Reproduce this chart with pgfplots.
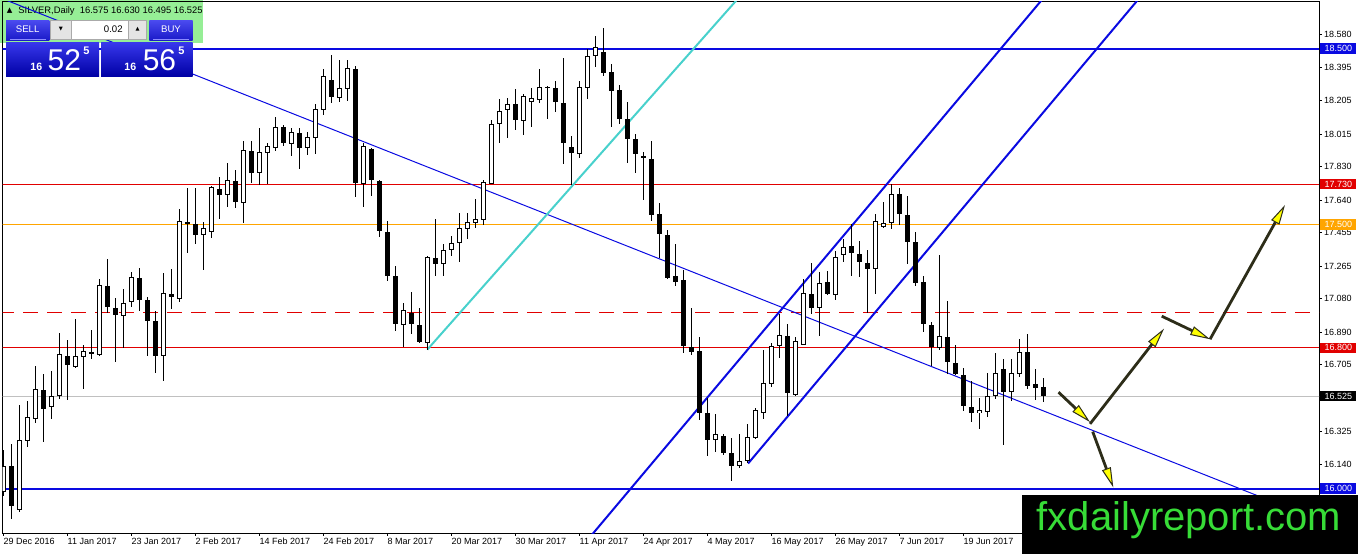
\documentclass[border=0pt]{standalone}
\usepackage{pgfplots}
\pgfplotsset{compat=1.18}
\usepackage{pgfplotstable}
\usepackage{fontspec}
\setmainfont{Liberation Sans}
\newfontfamily\dv{DejaVu Sans}
\usetikzlibrary{arrows.meta}
\definecolor{lblue}{RGB}{10,10,225}
\definecolor{lred}{RGB}{225,0,0}
\definecolor{lorange}{RGB}{255,165,0}
\definecolor{lgray}{RGB}{192,192,192}
\definecolor{lcyan}{RGB}{72,209,204}
\definecolor{adark}{RGB}{45,45,25}
\definecolor{ayellow}{RGB}{255,255,0}
\definecolor{hgreen}{RGB}{150,238,150}
\definecolor{btop}{RGB}{75,75,240}
\definecolor{bbot}{RGB}{25,25,200}
\definecolor{ptop}{RGB}{55,55,235}
\definecolor{pbot}{RGB}{0,0,165}
\definecolor{wgreen}{RGB}{55,220,55}
\newcommand{\lab}{\fontsize{4.5pt}{5pt}\selectfont}
\pgfplotstableread{
i O H L C
0 15.982 16.217 15.956 16.131
1 16.127 16.251 15.826 15.900
2 15.880 16.476 15.870 16.275
3 16.271 16.498 16.237 16.406
4 16.398 16.697 16.372 16.564
5 16.560 16.652 16.267 16.452
6 16.464 16.668 16.398 16.528
7 16.524 16.885 16.508 16.763
8 16.755 16.843 16.506 16.701
9 16.693 16.963 16.685 16.751
10 16.747 16.817 16.568 16.785
11 16.777 16.899 16.739 16.763
12 16.757 17.190 16.753 17.156
13 17.154 17.304 17.000 17.030
14 17.026 17.086 16.717 16.985
15 16.979 17.134 16.799 17.054
16 17.058 17.230 17.030 17.200
17 17.196 17.256 17.010 17.074
18 17.070 17.090 16.753 16.953
19 16.953 17.010 16.658 16.755
20 16.753 17.224 16.614 17.110
21 17.106 17.250 17.020 17.088
22 17.080 17.587 17.060 17.523
23 17.517 17.708 17.340 17.505
24 17.501 17.708 17.391 17.443
25 17.439 17.515 17.244 17.481
26 17.461 17.722 17.423 17.712
27 17.702 17.772 17.531 17.670
28 17.667 17.848 17.601 17.752
29 17.748 17.812 17.595 17.629
30 17.625 17.978 17.511 17.922
31 17.916 17.978 17.736 17.792
32 17.792 18.049 17.728 17.912
33 17.906 17.962 17.732 17.948
34 17.938 18.113 17.916 18.053
35 18.057 18.069 17.946 17.966
36 17.958 18.049 17.888 18.027
37 18.023 18.049 17.818 17.938
38 17.936 18.027 17.898 17.999
39 17.992 18.187 17.902 18.157
40 18.153 18.384 18.123 18.342
41 18.323 18.464 18.189 18.227
42 18.221 18.434 18.197 18.279
43 18.273 18.434 18.203 18.388
44 18.384 18.404 17.655 17.738
45 17.732 17.962 17.601 17.946
46 17.932 17.936 17.661 17.756
47 17.748 17.756 17.431 17.465
48 17.461 17.521 17.180 17.210
49 17.206 17.266 16.895 16.933
50 16.929 17.054 16.805 17.016
51 16.997 17.120 16.879 16.933
52 16.929 17.026 16.825 16.833
53 16.829 17.320 16.789 17.314
54 17.310 17.535 17.210 17.274
55 17.275 17.391 17.210 17.355
56 17.355 17.435 17.321 17.397
57 17.395 17.565 17.287 17.481
58 17.475 17.565 17.421 17.515
59 17.507 17.646 17.481 17.535
60 17.527 17.752 17.497 17.740
61 17.732 18.097 17.730 18.073
62 18.069 18.213 17.963 18.143
63 18.149 18.219 17.993 18.187
64 18.183 18.269 18.039 18.097
65 18.087 18.243 18.007 18.233
66 18.199 18.274 18.057 18.217
67 18.211 18.384 18.193 18.282
68 18.284 18.290 18.103 18.278
69 18.274 18.318 18.141 18.199
70 18.193 18.444 17.846 17.965
71 17.940 18.003 17.726 17.908
72 17.902 18.314 17.876 18.280
73 18.274 18.500 18.213 18.460
74 18.458 18.574 18.394 18.508
75 18.480 18.615 18.344 18.364
76 18.370 18.410 18.053 18.261
77 18.263 18.294 18.073 18.101
78 18.099 18.197 17.848 17.989
79 17.987 18.013 17.792 17.902
80 17.892 17.912 17.642 17.876
81 17.872 17.973 17.521 17.557
82 17.563 17.622 17.311 17.445
83 17.441 17.467 17.190 17.196
84 17.206 17.391 17.150 17.176
85 17.184 17.240 16.773 16.809
86 16.803 17.026 16.759 16.779
87 16.783 16.859 16.388 16.432
88 16.432 16.518 16.183 16.278
89 16.274 16.424 16.207 16.312
90 16.298 16.310 16.190 16.201
91 16.201 16.288 16.041 16.127
92 16.131 16.312 16.117 16.157
93 16.157 16.368 16.147 16.292
94 16.288 16.458 16.284 16.448
95 16.432 16.789 16.398 16.598
96 16.592 16.829 16.578 16.809
97 16.813 16.994 16.743 16.873
98 16.865 16.933 16.412 16.542
99 16.534 16.859 16.524 16.839
100 16.819 17.190 16.815 17.110
101 17.106 17.280 16.994 17.024
102 17.024 17.230 16.865 17.170
103 17.176 17.234 17.100 17.104
104 17.098 17.351 17.074 17.315
105 17.327 17.421 17.287 17.371
106 17.377 17.501 17.210 17.337
107 17.331 17.407 17.200 17.287
108 17.280 17.355 16.996 17.250
109 17.246 17.561 17.106 17.521
110 17.485 17.626 17.481 17.507
111 17.511 17.732 17.475 17.676
112 17.676 17.708 17.497 17.559
113 17.557 17.662 17.275 17.401
114 17.401 17.461 17.154 17.170
115 17.176 17.210 16.889 16.933
116 16.929 16.946 16.699 16.805
117 16.799 17.327 16.785 16.865
118 16.859 17.066 16.653 16.719
119 16.713 16.819 16.645 16.649
120 16.645 16.685 16.444 16.468
121 16.462 16.613 16.378 16.432
122 16.428 16.518 16.338 16.448
123 16.438 16.659 16.408 16.528
124 16.528 16.773 16.508 16.655
125 16.679 16.735 16.247 16.552
126 16.548 16.735 16.498 16.655
127 16.649 16.849 16.633 16.779
128 16.775 16.879 16.568 16.584
129 16.592 16.679 16.502 16.574
130 16.575 16.630 16.495 16.525
}\candles
\begin{document}
\begin{tikzpicture}
\useasboundingbox (0pt,0pt) rectangle (679pt,277pt);
\fill[hgreen] (0pt,255.5pt) rectangle (101.5pt,277pt);
\node[anchor=base west, inner sep=0pt, font={\dv\fontsize{3.6pt}{4pt}\selectfont}] at (3.2pt,271pt) {▲};
\node[anchor=base west, inner sep=0pt, font={\fontsize{4.7pt}{5pt}\selectfont}] at (9pt,270.3pt) {SILVER,Daily\ \ 16.575 16.630 16.495 16.525};
\begin{axis}[
  at={(1.35pt,10.5pt)}, anchor=south west,
  scale only axis, width=658.15pt, height=265.5pt,
  xmin=-0.075, xmax=164.46, ymin=15.748, ymax=18.765,
  axis line style={black, line width=0.5pt},
  tick style={black, line width=0.5pt},
  tick align=outside, major tick length=1.3pt,
  xtick pos=left, ytick pos=right, yticklabel pos=right,
  xtick={0,8,...,120},
  xticklabels={29 Dec 2016,11 Jan 2017,23 Jan 2017,2 Feb 2017,14 Feb 2017,24 Feb 2017,8 Mar 2017,20 Mar 2017,30 Mar 2017,11 Apr 2017,24 Apr 2017,4 May 2017,16 May 2017,26 May 2017,7 Jun 2017,19 Jun 2017},
  xticklabel style={anchor=north west, inner sep=0pt, font=\lab, yshift=-1pt},
  ytick={18.580,18.395,18.205,18.015,17.830,17.640,17.455,17.265,17.080,16.890,16.705,16.325,16.140},
  yticklabels={18.580,18.395,18.205,18.015,17.830,17.640,17.455,17.265,17.080,16.890,16.705,16.325,16.140},
  yticklabel style={anchor=west, inner sep=0pt, font=\lab, xshift=1pt},
]
\addplot[lblue, line width=1pt] coordinates {(-2,18.5) (170,18.5)};
\addplot[lblue, line width=1pt] coordinates {(-2,16.0) (170,16.0)};
\addplot[lred, line width=0.5pt] coordinates {(-2,17.73) (170,17.73)};
\addplot[lorange, line width=0.5pt] coordinates {(-2,17.5) (170,17.5)};
\addplot[lred, line width=0.5pt, dash pattern=on 7.5pt off 4.5pt] coordinates {(-0.5,17.0) (170,17.0)};
\addplot[lred, line width=0.5pt] coordinates {(-2,16.8) (170,16.8)};
\addplot[lgray, line width=0.5pt] coordinates {(-2,16.525) (170,16.525)};
\addplot[lblue, line width=0.5pt] coordinates {(-1,18.800) (170,15.722)};
\addplot[lcyan, line width=1pt] coordinates {(53.0,16.79) (95,18.947)};
\addplot[lblue, line width=1pt] coordinates {(72,15.653) (132,18.895)};
\addplot[lblue, line width=1pt] coordinates {(93.1,16.143) (143,18.841)};
% wicks
\addplot[draw=none, mark=none, error bars/.cd, y dir=both, y explicit, error mark=none,
  error bar style={draw=black, line width=0.5pt, solid}]
  table[x=i, y expr={(\thisrow{H}+\thisrow{L})/2}, y error expr={(\thisrow{H}-\thisrow{L})/2}] {\candles};
% bodies (black)
\addplot[draw=none, mark=none, error bars/.cd, y dir=both, y explicit, error mark=none,
  error bar style={draw=black, line width=2.4pt, solid}]
  table[x=i, y expr={(\thisrow{O}+\thisrow{C})/2}, y error expr={max(abs(\thisrow{C}-\thisrow{O})/2,0.0029)}] {\candles};
% white inner of rising candles
\addplot[draw=none, mark=none, error bars/.cd, y dir=both, y explicit, error mark=none,
  error bar style={draw=white, line width=1.4pt, solid}]
  table[x=i, y expr={(\thisrow{O}+\thisrow{C})/2}, y error expr={max((\thisrow{C}-\thisrow{O})/2-0.0057,0)}] {\candles};
% arrows
\addplot[adark, line width=1.4pt, -{Triangle[length=10pt,width=4.6pt,fill=ayellow,line width=0.5pt]}] coordinates {(131.9,16.548) (135.84,16.378)};
\addplot[adark, line width=1.4pt, -{Triangle[length=10pt,width=4.6pt,fill=ayellow,line width=0.5pt]}] coordinates {(135.84,16.368) (145.09,16.909)};
\addplot[adark, line width=1.4pt, -{Triangle[length=10pt,width=4.6pt,fill=ayellow,line width=0.5pt]}] coordinates {(144.8,16.980) (150.84,16.849)};
\addplot[adark, line width=1.4pt, -{Triangle[length=10pt,width=4.6pt,fill=ayellow,line width=0.5pt]}] coordinates {(150.84,16.849) (160.21,17.612)};
\addplot[adark, line width=1.4pt, -{Triangle[length=10pt,width=4.6pt,fill=ayellow,line width=0.5pt]}] coordinates {(136.17,16.324) (138.75,16.007)};
\coordinate (r1) at (axis cs:164.46,18.5);
\coordinate (r2) at (axis cs:164.46,17.73);
\coordinate (r3) at (axis cs:164.46,17.5);
\coordinate (r4) at (axis cs:164.46,16.8);
\coordinate (r5) at (axis cs:164.46,16.525);
\coordinate (r6) at (axis cs:164.46,16.0);
\end{axis}
% price boxes
\tikzset{pbox/.style={anchor=west, text=white, inner sep=0pt, minimum width=18pt, minimum height=5.2pt, font=\lab}}
\node[pbox, fill=lblue] at ([xshift=0.5pt]r1) {18.500};
\node[pbox, fill=lred] at ([xshift=0.5pt]r2) {17.730};
\node[pbox, fill=lorange] at ([xshift=0.5pt]r3) {17.500};
\node[pbox, fill=lred] at ([xshift=0.5pt]r4) {16.800};
\node[pbox, fill=black] at ([xshift=0.5pt]r5) {16.525};
\node[pbox, fill=lblue] at ([xshift=0.5pt]r6) {16.000};
% trading panel
\shade[top color=btop, bottom color=bbot] (3pt,256.65pt) rectangle (24.65pt,267pt);
\draw[color={rgb,255:red,140;green,140;blue,255}, line width=0.4pt] (5pt,257.3pt) -- (23pt,257.3pt);
\node[text=white, inner sep=0pt, font={\fontsize{4.8pt}{5pt}\selectfont}] at (13.8pt,262.3pt) {SELL};
\filldraw[fill={rgb,255:red,228;green,228;blue,228}, draw={rgb,255:red,170;green,170;blue,170}, line width=0.3pt] (25pt,257.35pt) rectangle (35.85pt,267pt);
\node[inner sep=0pt, font={\dv\fontsize{2.6pt}{3pt}\selectfont}] at (30.4pt,262.4pt) {▼};
\filldraw[fill=white, draw={rgb,255:red,170;green,170;blue,170}, line width=0.3pt] (35.85pt,257.35pt) rectangle (64.15pt,267pt);
\node[anchor=east, inner sep=0pt, font={\fontsize{4.8pt}{5pt}\selectfont}] at (61.5pt,262.3pt) {0.02};
\filldraw[fill={rgb,255:red,228;green,228;blue,228}, draw={rgb,255:red,170;green,170;blue,170}, line width=0.3pt] (64.15pt,257.35pt) rectangle (73.35pt,267pt);
\node[inner sep=0pt, font={\dv\fontsize{2.6pt}{3pt}\selectfont}] at (68.75pt,262.4pt) {▲};
\shade[top color=btop, bottom color=bbot] (74.65pt,256.65pt) rectangle (96.35pt,267pt);
\draw[color={rgb,255:red,140;green,140;blue,255}, line width=0.4pt] (76.5pt,257.3pt) -- (94.5pt,257.3pt);
\node[text=white, inner sep=0pt, font={\fontsize{4.8pt}{5pt}\selectfont}] at (85.5pt,262.3pt) {BUY};
\shade[top color=ptop, bottom color=pbot] (3pt,239pt) rectangle (49.5pt,255.65pt);
\shade[top color=ptop, bottom color=pbot] (50.5pt,239pt) rectangle (96.35pt,255.65pt);
\node[anchor=base west, text=white, inner sep=0pt, font={\bfseries\fontsize{5.3pt}{6pt}\selectfont}] at (15pt,241.6pt) {16};
\node[anchor=base west, text=white, inner sep=0pt, font={\fontsize{15pt}{15pt}\selectfont}] at (23.6pt,242pt) {52};
\node[anchor=base west, text=white, inner sep=0pt, font={\bfseries\fontsize{5.5pt}{6pt}\selectfont}] at (41.5pt,250pt) {5};
\node[anchor=base west, text=white, inner sep=0pt, font={\bfseries\fontsize{5.3pt}{6pt}\selectfont}] at (62pt,241.6pt) {16};
\node[anchor=base west, text=white, inner sep=0pt, font={\fontsize{15pt}{15pt}\selectfont}] at (71.2pt,242pt) {56};
\node[anchor=base west, text=white, inner sep=0pt, font={\bfseries\fontsize{5.5pt}{6pt}\selectfont}] at (89pt,250pt) {5};
% watermark
\fill[black] (510.85pt,0pt) rectangle (679pt,29.5pt);
\node[anchor=base, text=wgreen, inner sep=0pt, font={\fontsize{20pt}{20pt}\selectfont}] at (594.5pt,12pt) {fxdailyreport.com};
\end{tikzpicture}
\end{document}
